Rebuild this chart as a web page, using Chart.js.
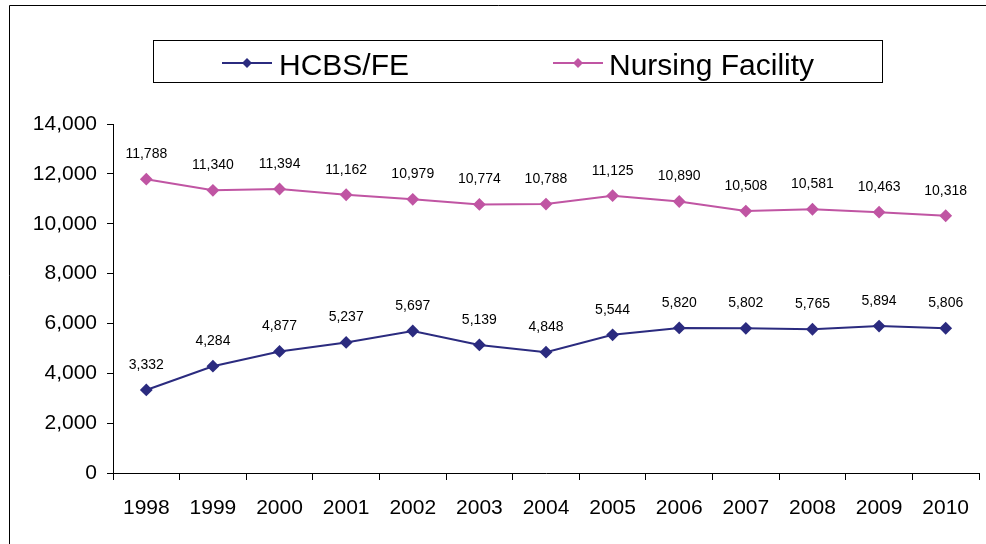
<!DOCTYPE html>
<html>
<head>
<meta charset="utf-8">
<script src="https://cdn.jsdelivr.net/npm/chart.js@4"></script>
<style>
  html, body { margin: 0; padding: 0; background: #fff; }
  #wrap { width: 986px; height: 544px; }
</style>
</head>
<body>
<div id="wrap"><canvas id="chart" width="986" height="544"></canvas></div>
<script>
const years = ['1998', '1999', '2000', '2001', '2002', '2003', '2004', '2005', '2006', '2007', '2008', '2009', '2010'];
const hcbsValues = [3332, 4284, 4877, 5237, 5697, 5139, 4848, 5544, 5820, 5802, 5765, 5894, 5806];
const nursingValues = [11788, 11340, 11394, 11162, 10979, 10774, 10788, 11125, 10890, 10508, 10581, 10463, 10318];
const seriesNames = ['HCBS/FE', 'Nursing Facility'];
const seriesColors = ['#2b2b7f', '#c055a3'];

const FONT = 'Arial, "Liberation Sans", sans-serif';

// White page with the outer frame
const framePlugin = {
    id: 'frame',
    beforeDraw(chart) {
        const c = chart.ctx;
        c.save();
        c.fillStyle = '#fff';
        c.fillRect(0, 0, chart.width, chart.height);
        c.strokeStyle = '#000';
        c.lineWidth = 1;
        c.beginPath();
        c.moveTo(9.5, chart.height + 2);
        c.lineTo(9.5, 5.5);
        c.lineTo(chart.width + 2, 5.5);
        c.stroke();
        c.restore();
    }
};

// Boxed legend with line + diamond samples
const boxLegend = {
    id: 'boxLegend',
    afterDraw(chart) {
        const c = chart.ctx;
        c.save();
        c.strokeStyle = '#000';
        c.lineWidth = 1;
        c.strokeRect(153.5, 40.5, 729, 42);
        const entries = [{ x: 222, tx: 279 }, { x: 553, tx: 609 }];
        entries.forEach((e, i) => {
            const y = 63;
            c.strokeStyle = seriesColors[i];
            c.lineWidth = 2;
            c.beginPath();
            c.moveTo(e.x, y);
            c.lineTo(e.x + 50, y);
            c.stroke();
            c.fillStyle = seriesColors[i];
            c.beginPath();
            c.moveTo(e.x + 25, y - 5);
            c.lineTo(e.x + 30, y);
            c.lineTo(e.x + 25, y + 5);
            c.lineTo(e.x + 20, y);
            c.closePath();
            c.fill();
            c.fillStyle = '#000';
            c.font = '30px ' + FONT;
            c.textBaseline = 'middle';
            c.textAlign = 'left';
            c.fillText(seriesNames[i], e.tx, y + 4);
        });
        c.restore();
    }
};

// Value labels above every point
const valueLabels = {
    id: 'valueLabels',
    afterDatasetsDraw(chart) {
        const c = chart.ctx;
        c.save();
        c.fillStyle = '#000';
        c.font = '14px ' + FONT;
        c.textAlign = 'center';
        c.textBaseline = 'middle';
        chart.data.datasets.forEach((ds, i) => {
            chart.getDatasetMeta(i).data.forEach((pt, j) => {
                c.fillText(ds.data[j].toLocaleString('en-US'), pt.x, pt.y - 25);
            });
        });
        c.restore();
    }
};

const ctx = document.getElementById('chart').getContext('2d');
const chart = new Chart(ctx, {
    type: 'line',
    data: {
        labels: years,
        datasets: [
            {
                label: seriesNames[0],
                data: hcbsValues,
                borderColor: seriesColors[0],
                backgroundColor: seriesColors[0],
                borderWidth: 2,
                pointStyle: 'rectRot',
                pointRadius: 5,
                tension: 0
            },
            {
                label: seriesNames[1],
                data: nursingValues,
                borderColor: seriesColors[1],
                backgroundColor: seriesColors[1],
                borderWidth: 2,
                pointStyle: 'rectRot',
                pointRadius: 5,
                tension: 0
            }
        ]
    },
    options: {
        responsive: false,
        animation: false,
        layout: { padding: { left: 0, right: 2, top: 124, bottom: 0 } },
        plugins: {
            legend: { display: false },
            tooltip: { enabled: false }
        },
        scales: {
            x: {
                offset: true,
                grid: { display: true, offset: true, drawOnChartArea: false, drawTicks: true, tickLength: 7, color: '#000' },
                border: { display: true, color: '#000', width: 1 },
                ticks: { color: '#000', font: { family: FONT, size: 21 }, padding: 16, maxRotation: 0 },
                afterFit(scale) { scale.height = 71; }
            },
            y: {
                min: 0,
                max: 14000,
                grid: { display: true, drawOnChartArea: false, drawTicks: true, tickLength: 6, color: '#000' },
                border: { display: true, color: '#000', width: 1 },
                ticks: { stepSize: 2000, color: '#000', font: { family: FONT, size: 21 }, padding: 10 },
                afterFit(scale) { scale.width = 113; }
            }
        }
    },
    plugins: [framePlugin, boxLegend, valueLabels]
});
</script>
</body>
</html>
